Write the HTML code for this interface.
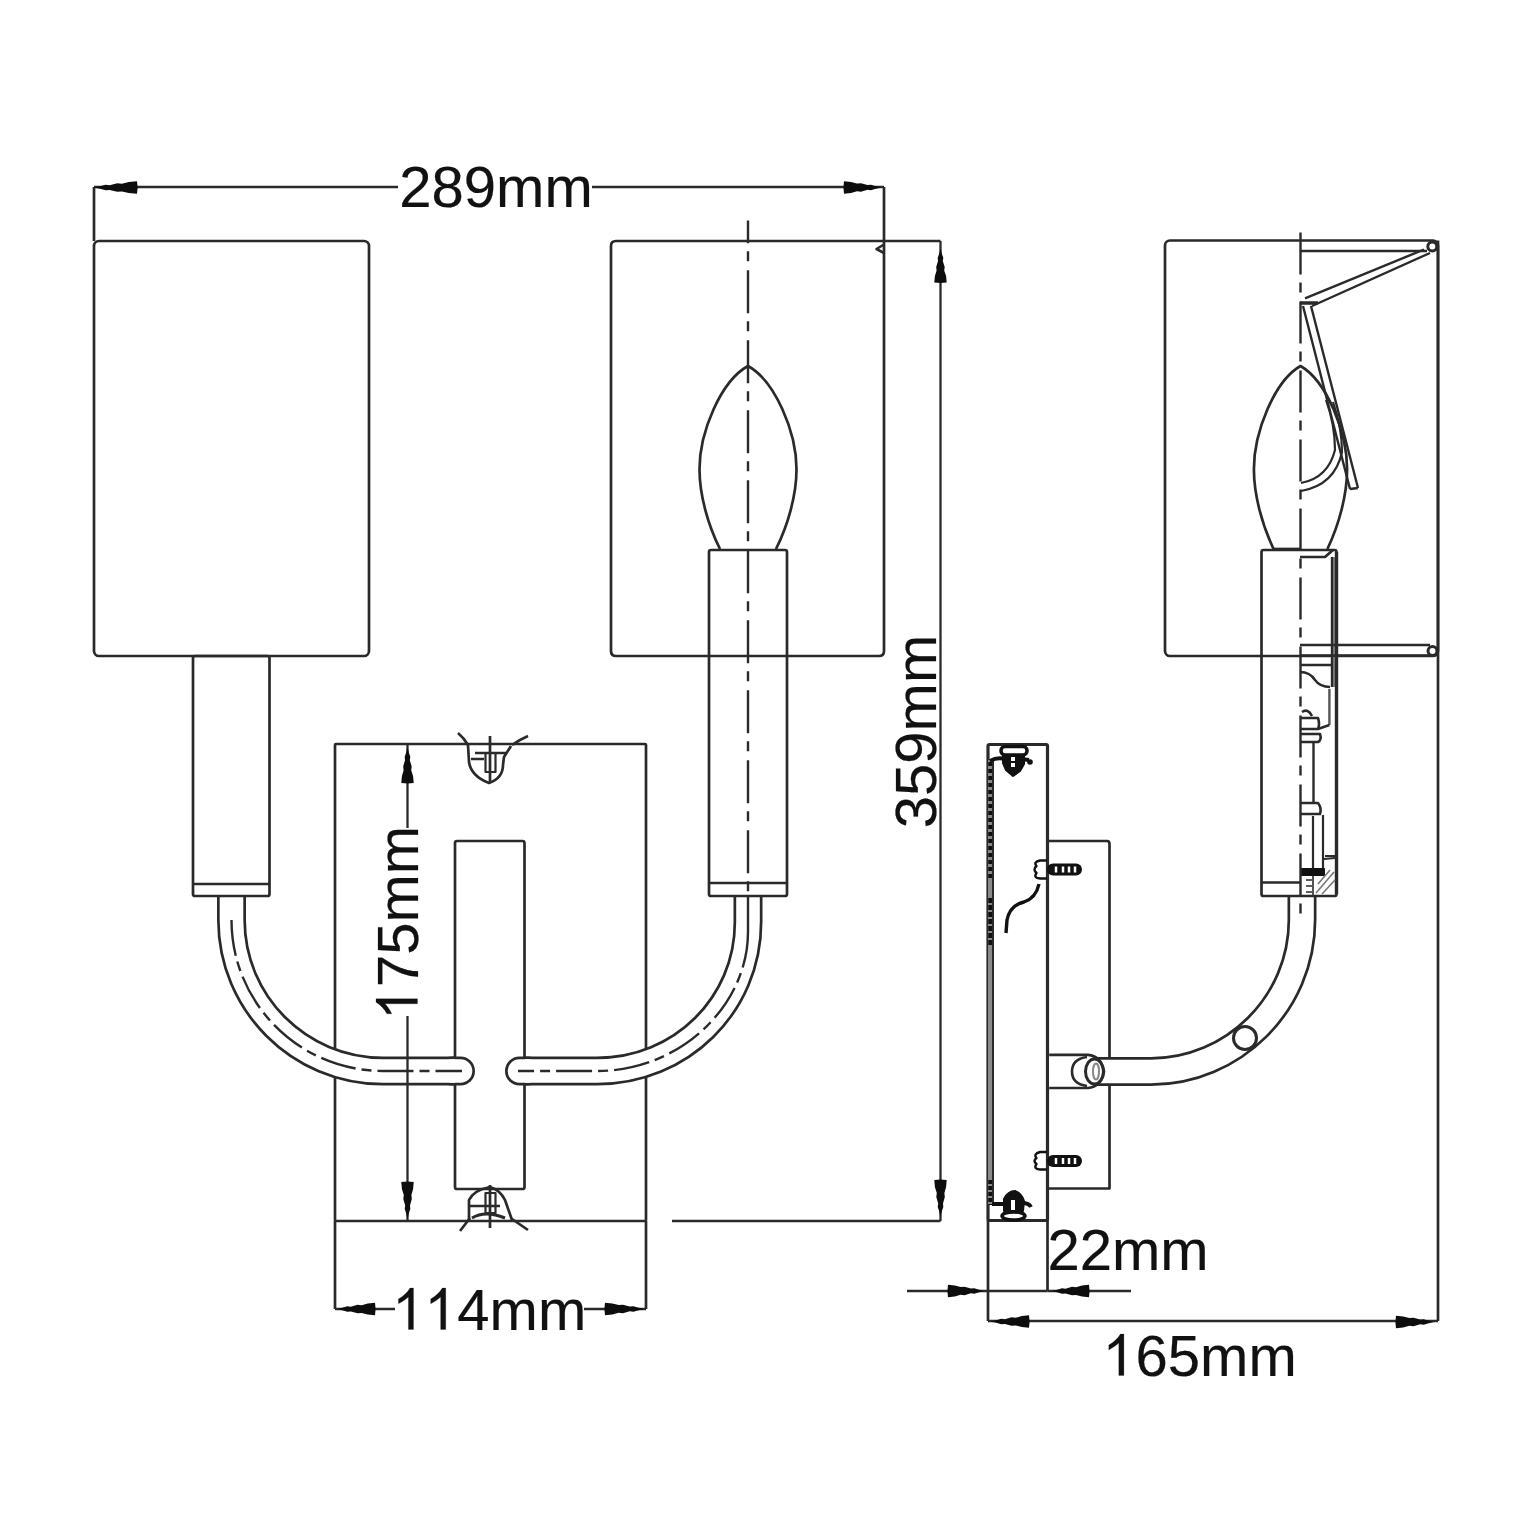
<!DOCTYPE html>
<html><head><meta charset="utf-8">
<style>
html,body{margin:0;padding:0;background:#fff;width:1540px;height:1540px;overflow:hidden}
svg{display:block}
text{font-family:"Liberation Sans",sans-serif;font-size:58px;fill:#111;stroke:#111;stroke-width:0.2;font-kerning:none}
.h{fill-opacity:0;stroke-opacity:0}
</style></head>
<body>
<svg width="1540" height="1540" viewBox="0 0 1540 1540">
<defs>
<path id="arr" d="M0,0 L6,-1.4 L10,-2.8 L13.5,-2.3 L20,-4.2 L24,-3.7 L30,-5.6 L37,-6.2 L37.6,0 L37,6.2 L30,5.6 L24,3.9 L20,4.3 L13.5,2.5 L10,2.8 L6,1.4 Z"/>
</defs>
<g fill="none" stroke="#2a2a2a" stroke-width="2.7" stroke-linejoin="round">

<!-- ================= FRONT VIEW ================= -->
<!-- backplate -->
<rect x="335" y="744" width="311" height="477" rx="1"/>
<rect x="455" y="841" width="69.5" height="348" rx="2"/>

<!-- shades -->
<rect x="94" y="241" width="275" height="415" rx="5"/>
<path d="M884,241 L884,651 Q884,656 879,656 L616,656 Q611,656 611,651 L611,246 Q611,241 616,241 Z"/>

<!-- arm tubes (outline via dark wide stroke + white inner stroke) -->
<path d="M231.5,896 L231.5,920 C231.5,1003 299,1071 383,1071 L455,1071" stroke-width="29"/>
<path d="M452,1071 L460.5,1071" stroke-width="29" stroke-linecap="round"/>
<path d="M748,896 L748,922 C748,1005 681,1071 597,1071 L525,1071" stroke-width="29"/>
<path d="M528,1071 L519.5,1071" stroke-width="29" stroke-linecap="round"/>
<path d="M231.5,895 L231.5,920 C231.5,1003 299,1071 383,1071 L455,1071" stroke="#fff" stroke-width="23.6"/>
<path d="M452,1071 L460.5,1071" stroke="#fff" stroke-width="23.6" stroke-linecap="round"/>
<path d="M748,895 L748,922 C748,1005 681,1071 597,1071 L525,1071" stroke="#fff" stroke-width="23.6"/>
<path d="M528,1071 L519.5,1071" stroke="#fff" stroke-width="23.6" stroke-linecap="round"/>
<path d="M231.5,920 C231.5,1003 299,1071 383,1071 L462,1071" stroke-width="2.4" stroke-dasharray="36 6 10 6"/>
<path d="M748,896 L748,932" stroke-width="2.4"/>
<path d="M748,932 C748,1005 681,1071 597,1071 L518,1071" stroke-width="2.4" stroke-dasharray="36 6 10 6"/>

<!-- left stem -->
<rect x="193" y="656" width="76.5" height="240" rx="2"/>
<line x1="193" y1="884" x2="269.5" y2="884"/>
<!-- right holder -->
<rect x="709" y="550" width="78" height="346" rx="2"/>
<line x1="709" y1="883" x2="787" y2="883"/>
<!-- candle bulb -->
<path d="M720,549 C708,525 699.5,495 699.5,469.3 C699.5,432.1 720.9,380.9 748,366 C775.1,380.9 796.5,432.1 796.5,469.3 C796.5,495 788,525 776,549"/>
<!-- centerline -->
<path d="M748,220.4 L748,896" stroke-width="2.4" stroke-dasharray="43 8 10 9" stroke-dashoffset="20.1"/>

<!-- top fixture -->
<path d="M458,733 Q464,738 468,745 M528,736 Q519,740 512,745"/>
<path d="M468,745 L469,762 Q471,776 489,783 Q503,778 503,765 L504,757 L511,746"/>
<path d="M490,736 L490,783 M475,753 L506,753 M471,759 L484,759"/>
<rect x="485.5" y="753" width="10" height="19" stroke-width="2.2"/>
<!-- bottom fixture -->
<path d="M460,1231 L470,1218 M528,1230 L512,1219"/>
<path d="M469,1220 L469,1200 Q474,1190 490,1187 Q500,1190 505,1200 L512,1220"/>
<path d="M490,1185 L490,1228 M470,1206 L500,1206"/>
<rect x="485.5" y="1193" width="10" height="20" stroke-width="2.2"/>
<path d="M472,1218 Q485,1210 505,1218" stroke-width="3"/>

<!-- ================= FRONT DIMENSIONS ================= -->
<!-- 289mm -->
<line x1="94" y1="187" x2="94" y2="241"/>
<line x1="884" y1="187" x2="884" y2="241"/>
<line x1="94" y1="187" x2="398" y2="187" stroke-width="2.3"/>
<line x1="592" y1="187" x2="884" y2="187" stroke-width="2.3"/>
<!-- 359mm -->
<line x1="884" y1="241" x2="940.5" y2="241"/>
<line x1="672" y1="1221" x2="940.5" y2="1221"/>
<line x1="940.5" y1="241" x2="940.5" y2="1221" stroke-width="2.3"/>
<path d="M884,244.5 L876.5,249 L884,253" stroke-width="2.6"/>
<!-- 175mm -->
<line x1="407.5" y1="744" x2="407.5" y2="828" stroke-width="2.3"/>
<line x1="407.5" y1="1016" x2="407.5" y2="1221" stroke-width="2.3"/>
<!-- 114mm -->
<line x1="335" y1="1221" x2="335" y2="1309"/>
<line x1="646" y1="1221" x2="646" y2="1309"/>
<line x1="335" y1="1309" x2="395" y2="1309" stroke-width="2.3"/>
<line x1="584" y1="1309" x2="646" y2="1309" stroke-width="2.3"/>

<!-- ================= SIDE VIEW ================= -->
<!-- shade -->
<rect x="1165" y="240.5" width="273" height="415.5" rx="5"/>
<!-- side backplate -->
<rect x="988" y="744.5" width="59.5" height="476" rx="1.5" stroke-width="3.2"/>
<!-- mounting bracket -->
<path d="M1047.5,841 L1107,841 Q1109.5,841 1109.5,844 L1109.5,1188.5 L1047.5,1188.5"/>
<!-- arm nub block -->


<!-- side arm tube -->
<path d="M1302,896 L1302,919.5 C1302,1004.3 1232.5,1071.5 1151,1071.5 L1092,1071.5" stroke-width="29"/>
<path d="M1302,895 L1302,919.5 C1302,1004.3 1232.5,1071.5 1151,1071.5 L1092,1071.5" stroke="#fff" stroke-width="23.6"/>
<path d="M1049.2,1054.8 L1088,1054.8 Q1101,1056 1104,1071.5 Q1101,1087 1088,1088 L1049.2,1088" fill="#fff"/>
<path d="M1087,1057 Q1072,1059 1072,1071.5 Q1072,1084 1087,1086" stroke-width="2.6"/>
<ellipse cx="1094.5" cy="1071.5" rx="9" ry="12.5" stroke-width="3"/>
<ellipse cx="1096" cy="1071.5" rx="3" ry="8" stroke="#888" stroke-width="2"/>
<circle cx="1245" cy="1038" r="11.5" stroke-width="3"/>


<!-- side holder -->
<rect x="1261.5" y="550" width="75" height="346" rx="2"/>
<line x1="1261.5" y1="882.5" x2="1300" y2="882.5"/>
<rect x="1332" y="557" width="4" height="130" fill="#888" stroke="none"/>
<path d="M1332,557 L1332,687" stroke-width="2.4"/>
<path d="M1329.4,689 L1329.4,725" stroke="#555" stroke-width="2.4"/>
<line x1="1336.5" y1="552" x2="1336.5" y2="894" stroke-width="3.4"/>
<path d="M1300,557 L1325,557 L1333,550"/>
<!-- harp lower bar -->
<path d="M1300,645 L1430,645 M1300,655.6 L1430,655.6" stroke-width="2.6"/>
<circle cx="1432.5" cy="651" r="4.5" stroke-width="3"/>
<!-- holder internal -->
<path d="M1300,665 L1332,665 M1300,672 Q1310,672 1315,680 Q1320,687 1330,687" stroke-width="2.4"/>
<path d="M1329.4,725 L1318,729" stroke-width="2.4"/>
<path d="M1302,712 Q1308,708 1312,716 M1301,718 L1318,718 Q1320,724 1318,729 L1301,729 M1301,734 L1320,734 Q1322,740 1318,742 L1301,742" stroke-width="2.6"/>
<path d="M1313.5,742 L1313.5,803" stroke-width="2.4"/>
<path d="M1301,803 L1318,803 Q1322,808 1320,814 L1301,814" stroke-width="2.6"/>
<path d="M1313,816 L1313,868 M1323,815 L1323,868 M1325,856 L1336,856" stroke-width="2.2"/>
<path d="M1301,869 L1324,869 L1324,875 L1301,875 Z" fill="#111" stroke="#111" stroke-width="2"/>
<path d="M1323.5,859 L1335,858" stroke-width="2.2"/>
<path d="M1313,876 L1313,895 M1306,880 L1312,880 M1306,886 L1312,886 M1306,892 L1312,892" stroke-width="1.6"/>
<path d="M1316,893 L1334,872 M1322,894 L1335,880 M1318,884 L1330,870" stroke="#777" stroke-width="1.6"/>
<!-- side bulb -->
<path d="M1273.6,549 C1262.1,525 1253.9,495 1253.9,469.3 C1253.9,432.1 1274.5,380.9 1300.5,366 C1326.5,380.9 1347.1,432.1 1347.1,469.3 C1347.1,495 1338.9,525 1327.4,549"/>
<path d="M1272.5,549 L1300,549"/>
<!-- harp wires -->
<path d="M1300,251 L1427,251" stroke-width="2.6"/>
<circle cx="1432.3" cy="246.5" r="4.5" stroke-width="3"/>
<path d="M1424,249.5 L1305,298.3 M1430,253 L1312,306" stroke-width="2.4"/>
<path d="M1300,303 L1318,303" stroke-width="3.5"/>
<path d="M1303,306 L1350,489 M1311,306 L1358,488 M1350,489 L1358,488" stroke-width="2.4"/>
<path d="M1301,483 Q1328,478 1335,450 Q1335,425 1326,400 M1301,491 Q1335,485 1342,452 Q1342,428 1333,402" stroke-width="2.2"/>
<!-- centerline side -->
<path d="M1300.5,232.5 L1300.5,921" stroke-width="2.4" stroke-dasharray="42 8 10 9"/>

<!-- side backplate fixtures -->
<rect x="988" y="760" width="5" height="445" fill="#8a8a8a" stroke="none"/>
<line x1="990.5" y1="762" x2="990.5" y2="880" stroke="#111" stroke-width="4.5" stroke-dasharray="4 3"/>
<line x1="990.5" y1="898" x2="990.5" y2="945" stroke="#111" stroke-width="4.5" stroke-dasharray="5 2"/>
<line x1="990.5" y1="1180" x2="990.5" y2="1205" stroke="#111" stroke-width="4.5" stroke-dasharray="4 2"/>
<line x1="993" y1="760" x2="993" y2="1205" stroke-width="2"/>
<!-- top fixture -->
<path d="M990,761 Q997,757 1005,759 M1021,759 L1029,760" stroke="#111" stroke-width="4"/>
<circle cx="1030" cy="762" r="2.8" fill="#111" stroke="none"/>
<path d="M1003,755 L1024,755 L1024,764 L1020,771 L1013,776 L1006,770 L1003,763 Z" fill="#111" stroke="#111" stroke-width="2"/>
<rect x="1011" y="757" width="4" height="4" fill="#fff" stroke="none"/>
<rect x="1011" y="763" width="4" height="4" fill="#fff" stroke="none"/>
<rect x="1001" y="746.5" width="26" height="8.5" rx="4" fill="#fff" stroke="#111" stroke-width="3.5"/>
<!-- screws -->
<path d="M1047,860.5 L1040,860.5 Q1033,862 1036.5,866 Q1032.5,869.5 1036.5,873 Q1033,878 1040,878.5 L1047,878.5" stroke="#111" stroke-width="2.4"/>
<rect x="1047" y="863.5" width="35" height="12" rx="6" fill="#111" stroke="none"/>
<path d="M1056,866.5 L1056,872.5 M1063,866.5 L1063,872.5 M1069,866.5 L1069,872.5 M1075,866.5 L1075,872.5" stroke="#fff" stroke-width="2.5"/>
<path d="M1047,1152 L1040,1152 Q1033,1154 1036.5,1158 Q1032.5,1161 1036.5,1164 Q1033,1169 1040,1169.5 L1047,1169.5" stroke="#111" stroke-width="2.4"/>
<rect x="1047" y="1155" width="35" height="12" rx="6" fill="#111" stroke="none"/>
<path d="M1056,1158 L1056,1164 M1063,1158 L1063,1164 M1069,1158 L1069,1164 M1075,1158 L1075,1164" stroke="#fff" stroke-width="2.5"/>
<!-- wire -->
<path d="M1039,884 Q1036,898 1024,902 Q1010,905 1007,920 L1006,933" stroke="#111" stroke-width="3.4"/>
<!-- bottom fixture -->
<path d="M992,1204 L1004,1204 M1022,1203 Q1029,1203 1031,1207" stroke="#111" stroke-width="3.8"/>
<path d="M1004,1211 L1004,1199 Q1008,1191 1015,1191 Q1022,1194 1024,1201 L1023,1211 Z" fill="#111" stroke="#111" stroke-width="2"/>
<rect x="1011" y="1200" width="4" height="10" fill="#fff" stroke="none"/>
<ellipse cx="1013.5" cy="1216" rx="11.5" ry="4" fill="#fff" stroke="#111" stroke-width="3.5"/>

<!-- ================= SIDE DIMENSIONS ================= -->
<line x1="1438" y1="240.5" x2="1438" y2="1321"/>
<line x1="988" y1="1220" x2="988" y2="1321"/>
<line x1="1047.5" y1="1220" x2="1047.5" y2="1291"/>
<line x1="988" y1="1321" x2="1438" y2="1321" stroke-width="2.3"/>
<line x1="907" y1="1291" x2="988" y2="1291" stroke-width="2.3"/>
<line x1="988" y1="1291" x2="1047.5" y2="1291" stroke-width="2.3"/>
<line x1="1047.5" y1="1291" x2="1131" y2="1291" stroke-width="2.3"/>
</g>

<!-- arrowheads -->
<g fill="#0d0d0d">
<use href="#arr" transform="translate(94,187.5) rotate(0) scale(1.162,1)"/>
<use href="#arr" transform="translate(881,187.5) rotate(180) scale(1.0,1)"/>
<use href="#arr" transform="translate(940.5,248.5) rotate(90) scale(0.919,1)"/>
<use href="#arr" transform="translate(940.5,1217) rotate(-90) scale(1.000,1)"/>
<use href="#arr" transform="translate(407.5,747) rotate(90) scale(0.973,1)"/>
<use href="#arr" transform="translate(407.5,1219) rotate(-90) scale(1.000,1)"/>
<use href="#arr" transform="translate(337,1309) rotate(0) scale(1.027,1)"/>
<use href="#arr" transform="translate(644,1309) rotate(180) scale(1.054,1)"/>
<use href="#arr" transform="translate(984,1291) rotate(180) scale(0.973,1)"/>
<use href="#arr" transform="translate(1052,1291) rotate(0) scale(1.000,1)"/>
<use href="#arr" transform="translate(991,1321.5) rotate(0) scale(1.027,1)"/>
<use href="#arr" transform="translate(1434,1322) rotate(180) scale(1.027,1)"/>
</g>

<!-- texts -->
<defs><path id="one" d="M20.6,0 L15.5,0 L15.5,-32.5 C13.5,-30.5 10,-28 5.5,-25.7 L5.5,-30.6 C10.5,-33.3 14.5,-37 17.1,-41.5 L20.6,-41.5 Z"/></defs>
<text x="496" y="206.8" text-anchor="middle">289mm</text>
<text x="489.5" y="1329.5" text-anchor="middle"><tspan class="h">11</tspan>4mm</text>
<text transform="translate(417.5,922.6) rotate(-90)" text-anchor="middle"><tspan class="h">1</tspan>75mm</text>
<text transform="translate(936,731.5) rotate(-90)" text-anchor="middle">359mm</text>
<text x="1128" y="1269.5" text-anchor="middle">22mm</text>
<text x="1200" y="1375.6" text-anchor="middle"><tspan class="h">1</tspan>65mm</text>
<g fill="#111" stroke="#111" stroke-width="0.2">
<use href="#one" transform="translate(392.9,1329.5)"/>
<use href="#one" transform="translate(425.15,1329.5)"/>
<use href="#one" transform="translate(417.5,922.6) rotate(-90) translate(-96.7,0)"/>
<use href="#one" transform="translate(1103.3,1375.6)"/>
</g>
</svg>
</body></html>
